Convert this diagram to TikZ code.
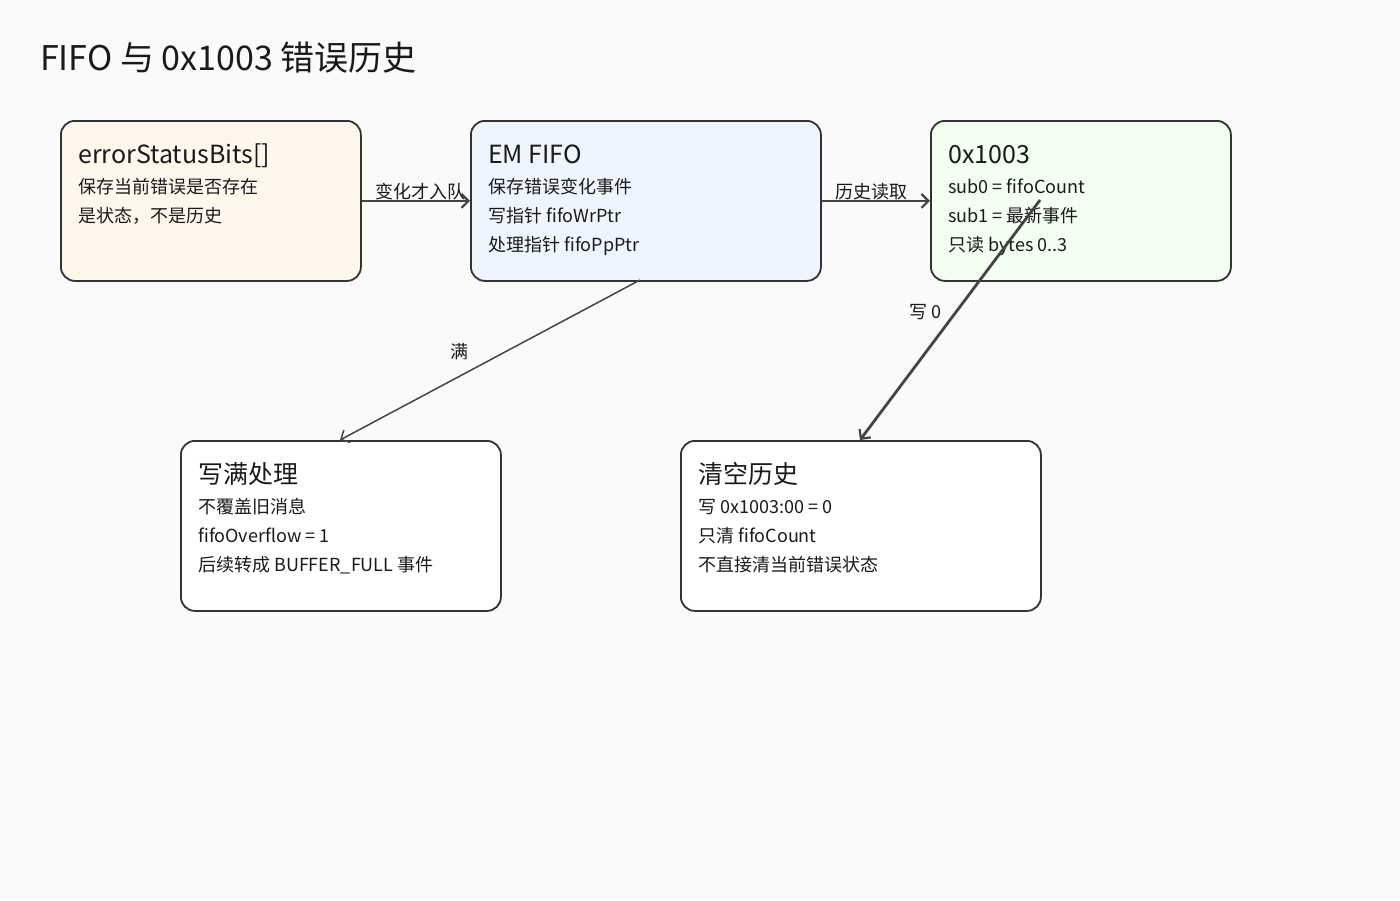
\documentclass[tikz,border=0pt]{standalone}
\usepackage{fontspec}
\setmainfont{Noto Sans CJK SC}
\usetikzlibrary{arrows.meta}
\definecolor{bg}{HTML}{FAFAFA}
\definecolor{edge}{HTML}{333333}
\definecolor{wire}{HTML}{444444}
\definecolor{fa}{HTML}{FFF7EC}
\definecolor{fb}{HTML}{EEF5FF}
\definecolor{fc}{HTML}{F3FFF0}
\definecolor{txt}{HTML}{1A1A1A}
\tikzset{
  box/.style={draw=edge, line width=1.8pt, rounded corners=14pt, anchor=north west, inner sep=0pt},
  ttl/.style={anchor=base west, inner sep=0pt, text=txt, font=\fontsize{25}{30}\selectfont},
  ln/.style={anchor=base west, inner sep=0pt, text=txt, font=\fontsize{18}{22}\selectfont},
  lbl/.style={inner sep=0pt, text=txt, font=\fontsize{18}{22}\selectfont},
  conn/.style={draw=wire, line width=2.8pt, -{Straight Barb[length=7pt,width=14pt,line width=2.2pt]}},
  thin/.style={draw=wire, line width=1.5pt, -{Straight Barb[length=7pt,width=14pt,line width=1.5pt]}}
}
\begin{document}
\begin{tikzpicture}[x=1pt,y=-1pt]
\fill[bg] (0,0) rectangle (1400,900);
\useasboundingbox (0,0) rectangle (1400,900);
\node[anchor=base west, inner sep=0pt, text=txt, font=\fontsize{34}{40}\selectfont] (title) at (40,70) {FIFO 与 0x1003 错误历史};

\node[box, fill=fa, minimum width=300pt, minimum height=160pt] (A) at (60,120) {};
\node[box, fill=fb, minimum width=350pt, minimum height=160pt] (B) at (470,120) {};
\node[box, fill=fc, minimum width=300pt, minimum height=160pt] (C) at (930,120) {};
\node[box, fill=white, minimum width=320pt, minimum height=170pt] (D) at (180,440) {};
\node[box, fill=white, minimum width=360pt, minimum height=170pt] (E) at (680,440) {};

\node[ttl] (At) at (78,163) {errorStatusBits[]};
\node[ln] (A1) at (78,193) {保存当前错误是否存在};
\node[ln] (A2) at (78,222) {是状态，不是历史};

\node[ttl] (Bt) at (488,163) {EM FIFO};
\node[ln] (B1) at (488,193) {保存错误变化事件};
\node[ln] (B2) at (488,222) {写指针 fifoWrPtr};
\node[ln] (B3) at (488,251) {处理指针 fifoPpPtr};

\node[ttl] (Ct) at (948,163) {0x1003};
\node[ln] (C1) at (948,193) {sub0 = fifoCount};
\node[ln] (C2) at (948,222) {sub1 = 最新事件};
\node[ln] (C3) at (948,251) {只读 bytes 0..3};

\node[ttl] (Dt) at (198,483) {写满处理};
\node[ln] (D1) at (198,513) {不覆盖旧消息};
\node[ln] (D2) at (198,542) {fifoOverflow = 1};
\node[ln] (D3) at (198,571) {后续转成 BUFFER\_FULL 事件};

\node[ttl] (Et) at (698,483) {清空历史};
\node[ln] (E1) at (698,513) {写 0x1003:00 = 0};
\node[ln] (E2) at (698,542) {只清 fifoCount};
\node[ln] (E3) at (698,571) {不直接清当前错误状态};

\draw[conn] (A.east) -- (B.west);
\node[lbl] (l1) at (420,192) {变化才入队};
\draw[conn] (B.east) -- (C.west);
\node[lbl] (l2) at (871,192) {历史读取};

\coordinate (Bs) at (640,280);
\coordinate (De) at (340,440);
\draw[thin] (Bs) -- (De);
\node[lbl] (l3) at (459,352) {满};

\coordinate (Cs) at (1040,200);
\coordinate (Ee) at (860,440);
\draw[conn] (Cs) -- (Ee);
\node[lbl] (l4) at (925,312) {写 0};
\end{tikzpicture}
\end{document}
